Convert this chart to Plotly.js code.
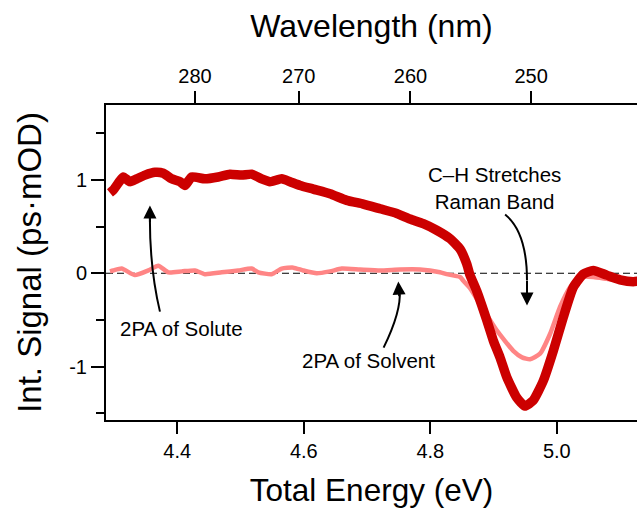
<!DOCTYPE html>
<html>
<head>
<meta charset="utf-8">
<script src="https://cdn.plot.ly/plotly-3.0.1.min.js"></script>
<style>
  html, body { margin: 0; padding: 0; background: #fff; }
  #chart { width: 637px; height: 509px; }
</style>
</head>
<body>
<div id="chart"></div>
<script>
// ---- Data ----
const soluteEnergy = [4.2936, 4.2988, 4.3094, 4.3146, 4.3252, 4.3358, 4.3489, 4.3647, 4.3779, 4.3911,
  4.4043, 4.4122, 4.4228, 4.4438, 4.4648, 4.4833, 4.5018, 4.5176, 4.5334, 4.5466,
  4.5651, 4.5782, 4.5940, 4.6150, 4.6414, 4.6678, 4.6941, 4.7205, 4.7469, 4.7680,
  4.7889, 4.8101, 4.8312, 4.8470, 4.8576, 4.8628, 4.8734, 4.8892, 4.8996, 4.9102,
  4.9208, 4.9366, 4.9497, 4.9628, 4.9787, 4.9945, 5.0103, 5.0261, 5.0419, 5.0577,
  5.0789, 5.1000, 5.1210, 5.1315];
const soluteSignal = [0.86, 0.89, 0.99, 1.03, 0.98, 1.01, 1.05, 1.08, 1.07, 1.01,
  0.98, 0.94, 1.03, 1.01, 1.03, 1.06, 1.05, 1.06, 1.01, 0.98,
  1.01, 0.98, 0.94, 0.90, 0.85, 0.78, 0.74, 0.69, 0.64, 0.58,
  0.53, 0.46, 0.37, 0.26, 0.10, -0.02, -0.19, -0.50, -0.72, -0.90,
  -1.11, -1.33, -1.42, -1.36, -1.15, -0.83, -0.47, -0.15, -0.01, 0.03,
  -0.02, -0.07, -0.09, -0.08];

const solventEnergy = [4.2936, 4.2988, 4.3121, 4.3331, 4.3542, 4.3700, 4.3858, 4.4070, 4.4280, 4.4438,
  4.4702, 4.4964, 4.5176, 4.5281, 4.5492, 4.5651, 4.5834, 4.5992, 4.6204, 4.6414,
  4.6599, 4.6889, 4.7205, 4.7521, 4.7837, 4.8153, 4.8259, 4.8470, 4.8522, 4.8628,
  4.8786, 4.9050, 4.9312, 4.9450, 4.9577, 4.9735, 4.9893, 5.0051, 5.0209, 5.0368,
  5.0577, 5.0789, 5.1000, 5.1315];
const solventSignal = [0.02, 0.03, 0.05, -0.02, 0.03, 0.08, 0.01, 0.02, 0.03, -0.01,
  0.01, 0.03, 0.05, 0.01, -0.01, 0.05, 0.06, 0.03, 0.00, 0.02,
  0.05, 0.04, 0.03, 0.04, 0.04, 0.01, -0.01, -0.04, -0.08, -0.16,
  -0.33, -0.61, -0.83, -0.90, -0.92, -0.86, -0.65, -0.36, -0.15, -0.04,
  -0.04, -0.06, -0.08, -0.09];

const energyTicks = [4.4, 4.6, 4.8, 5.0];
const energyTickLabels = ['4.4', '4.6', '4.8', '5.0'];
const wavelengthTicks = [280, 270, 260, 250];
const signalTicks = [-1, 0, 1];
const signalTickLabels = ['-1', '0', '1'];

// photon energy (eV) for a wavelength (nm)
const HC = 1239.84;
const wavelengthTickEnergy = wavelengthTicks.map(w => HC / w);

const FONT = 'Liberation Sans, Arial, Helvetica, sans-serif';
const xRange = [4.2873, 5.1268];

const traces = [
  { x: solventEnergy, y: solventSignal, type: 'scatter', mode: 'lines',
    line: { color: '#ff8585', width: 4.5, shape: 'spline', smoothing: 0.5 }, hoverinfo: 'skip', showlegend: false },
  { x: soluteEnergy, y: soluteSignal, type: 'scatter', mode: 'lines',
    line: { color: '#cc0000', width: 9.5, shape: 'spline', smoothing: 0.5 }, hoverinfo: 'skip', showlegend: false },
  { x: wavelengthTickEnergy, y: wavelengthTicks.map(() => null), xaxis: 'x2', yaxis: 'y',
    type: 'scatter', mode: 'lines', hoverinfo: 'skip', showlegend: false }
];

const axisCommon = {
  showgrid: false, zeroline: false, showline: true, linecolor: '#000', linewidth: 2,
  ticks: 'outside', tickcolor: '#000', tickwidth: 2,
  tickfont: { family: FONT, size: 20, color: '#000' }
};

const layout = {
  width: 637, height: 509,
  margin: { l: 106, r: 0, t: 105, b: 89 },
  paper_bgcolor: '#fff', plot_bgcolor: '#fff',
  font: { family: FONT, color: '#000' },
  showlegend: false,
  xaxis: Object.assign({}, axisCommon, {
    range: xRange, tickmode: 'array', tickvals: energyTicks, ticktext: energyTickLabels,
    ticklen: 12,
    title: { text: 'Total Energy (eV)', font: { family: FONT, size: 31.5, color: '#000' }, standoff: 18 }
  }),
  xaxis2: Object.assign({}, axisCommon, {
    range: xRange, overlaying: 'x', side: 'top', anchor: 'y',
    tickmode: 'array', tickvals: wavelengthTickEnergy, ticktext: wavelengthTicks.map(String),
    ticklen: 12,
    title: { text: 'Wavelength (nm)', font: { family: FONT, size: 32, color: '#000' }, standoff: 18 }
  }),
  yaxis: Object.assign({}, axisCommon, {
    range: [-1.57, 1.8], tickmode: 'array', tickvals: signalTicks, ticktext: signalTickLabels,
    ticklen: 13,
    minor: { tickmode: 'linear', tick0: 0.5, dtick: 1, ticks: 'outside', ticklen: 8, tickwidth: 2, tickcolor: '#000' },
    title: { text: 'Int. Signal (ps·mOD)', font: { family: FONT, size: 33, color: '#000' }, standoff: 18 }
  }),
  shapes: [
    { type: 'line', xref: 'paper', yref: 'y', x0: 0, x1: 1, y0: 0, y1: 0,
      line: { color: '#000', width: 1.2, dash: '7px,4px' }, layer: 'below' },
    // curved arrow shafts
    { type: 'path', xref: 'x', yref: 'y', path: 'M 4.3726,-0.4105 Q 4.3553,0.0825 4.3568,0.672',
      line: { color: '#000', width: 2 } },
    { type: 'path', xref: 'x', yref: 'y', path: 'M 4.7262,-0.796 Q 4.7546,-0.40 4.7515,-0.185',
      line: { color: '#000', width: 2 } },
    { type: 'path', xref: 'x', yref: 'y', path: 'M 4.9183,0.629 Q 4.9529,0.44 4.9529,-0.078',
      line: { color: '#000', width: 2 } }
  ],
  annotations: [
    { x: 4.407, y: -0.593, xref: 'x', yref: 'y', text: '2PA of Solute', showarrow: false,
      font: { family: FONT, size: 20.5, color: '#000' } },
    { x: 4.703, y: -0.936, xref: 'x', yref: 'y', text: '2PA of Solvent', showarrow: false,
      font: { family: FONT, size: 20.5, color: '#000' } },
    { x: 4.9015, y: 0.908, xref: 'x', yref: 'y', text: 'C–H Stretches<br>Raman Band', showarrow: false,
      font: { family: FONT, size: 20.5, color: '#000' } },
    // arrowheads
    { x: 4.3568, y: 0.7256, xref: 'x', yref: 'y', text: '', showarrow: true, ax: 0, ay: 18,
      arrowhead: 2, arrowsize: 1.3, arrowwidth: 2, arrowcolor: '#000' },
    { x: 4.7494, y: -0.089, xref: 'x', yref: 'y', text: '', showarrow: true, ax: 1, ay: 16,
      arrowhead: 2, arrowsize: 1.3, arrowwidth: 2, arrowcolor: '#000' },
    { x: 4.9529, y: -0.346, xref: 'x', yref: 'y', text: '', showarrow: true, ax: 0, ay: -26,
      arrowhead: 2, arrowsize: 1.3, arrowwidth: 2, arrowcolor: '#000' }
  ]
};

Plotly.newPlot('chart', traces, layout, { displayModeBar: false, staticPlot: true });
</script>
</body>
</html>
